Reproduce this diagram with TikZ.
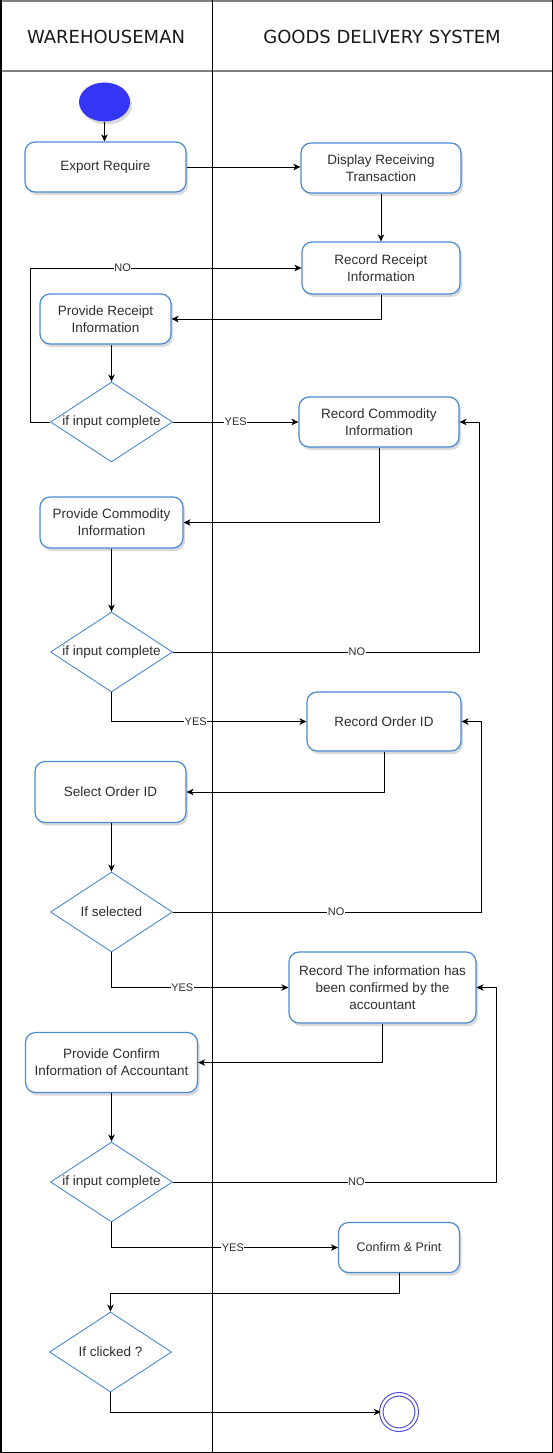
\documentclass[tikz,border=0pt]{standalone}
\usepackage{fontspec}
\setmainfont{Liberation Sans}
\newfontfamily\headfont{DejaVu Sans}
\usetikzlibrary{arrows.meta,shapes.geometric,shadows}
\definecolor{boxblue}{HTML}{4A8AD0}
\definecolor{startblue}{HTML}{3535F5}
\definecolor{endblue}{HTML}{4E4ED6}
\definecolor{txtgray}{HTML}{2E2E2E}
\definecolor{lanegray}{HTML}{808080}
\tikzset{
  actbox/.style={draw=boxblue, line width=1.2pt, rounded corners=10pt, fill=white,
    drop shadow={shadow xshift=2pt, shadow yshift=-3pt, opacity=.3, fill=gray},
    align=center, inner sep=0pt, text=txtgray, font=\fontsize{13.5}{17}\selectfont},
  decision/.style={diamond, draw=boxblue, line width=.9pt, fill=white, aspect=1.5,
    inner sep=0pt, minimum width=122pt, minimum height=80pt, text=txtgray,
    font=\fontsize{13.5}{17}\selectfont},
  flow/.style={-{Stealth[length=7pt,width=6.5pt,inset=2pt]}, line width=.9pt},
  lbl/.style={fill=white, inner sep=.6pt, text=txtgray, font=\fontsize{11}{12}\selectfont},
  lanehead/.style={text=black!90, font=\headfont\fontsize{18}{20}\selectfont},
}
\begin{document}
\begin{tikzpicture}[x=1pt,y=-1pt]
    \useasboundingbox (0,0) rectangle (553,1453);
    % lanes
    \draw[lanegray, line width=2pt] (0,1) -- (553,1);
    \draw[lanegray, line width=2pt] (0,71) -- (553,71);
    \draw[line width=1.5pt] (.75,0) -- (.75,1452.25) -- (552.25,1452.25) -- (552.25,0);
    \draw[line width=1pt] (212,0) -- (212,1452);
    \node[lanehead] (whman) at (106,37) {WAREHOUSEMAN};
    \node[lanehead] (gdsys) at (382,37) {GOODS DELIVERY SYSTEM};

    % activities
    \node[ellipse, fill=startblue, inner sep=0pt, minimum width=51pt, minimum height=39pt,
          drop shadow={shadow xshift=2pt, shadow yshift=-3pt, opacity=.3, fill=gray}] (start) at (104.5,102) {};
    \node[actbox, minimum width=161pt, minimum height=50pt] (export) at (105.5,167) {Export Require};
    \node[actbox, minimum width=160pt, minimum height=50pt] (display) at (381,168) {Display Receiving\\Transaction};
    \node[actbox, minimum width=158pt, minimum height=52pt] (recreceipt) at (381,268) {Record Receipt\\Information};
    \node[actbox, minimum width=131pt, minimum height=50pt] (provreceipt) at (105.5,319) {Provide Receipt\\Information};
    \node[decision] (dec1) at (111.5,422) {if input complete};
    \node[actbox, minimum width=160pt, minimum height=50pt] (reccommodity) at (379,422) {Record Commodity\\Information};
    \node[actbox, minimum width=143pt, minimum height=51pt] (provcommodity) at (111.5,522.5) {Provide Commodity\\Information};
    \node[decision] (dec2) at (111.5,652) {if input complete};
    \node[actbox, minimum width=154pt, minimum height=59pt] (recorder) at (384,721.5) {Record Order ID};
    \node[actbox, minimum width=151pt, minimum height=61pt] (selorder) at (110.5,792) {Select Order ID};
    \node[decision] (dec3) at (111.5,912) {If selected};
    \node[actbox, minimum width=187pt, minimum height=71pt] (recconfirmed) at (382.5,987.5) {Record The information has\\been confirmed by the\\accountant};
    \node[actbox, minimum width=172pt, minimum height=60pt] (provconfirm) at (111.5,1062.5) {Provide Confirm\\Information of Accountant};
    \node[decision] (dec4) at (111.5,1182) {if input complete};
    \node[actbox, minimum width=121pt, minimum height=50pt] (confirmprint) at (399,1247.5) {\fontsize{12.5}{15}\selectfont Confirm \& Print};
    \node[decision] (dec5) at (110.5,1352) {If clicked ?};
    \node[circle, draw=endblue, line width=1.1pt, double=white, double distance=2.4pt,
          fill=white, inner sep=0pt, minimum size=35.4pt] (finish) at (399,1412) {};

    % flows
    \draw[flow] (start.south) -- (start.south |- export.north);
    \draw[flow] (export.east) -- (export.east -| display.west);
    \draw[flow] (display.south) -- (recreceipt.north);
    \draw[flow] (recreceipt.south) |- (provreceipt.east);
    \draw[flow] (dec1.north |- provreceipt.south) -- (dec1.north);
    \draw[flow] (dec1.west) -- ++(-19.5,0) |- (recreceipt.west) node[lbl, pos=.67] {NO};
    \draw[flow] (dec1.east) -- (reccommodity.west) node[lbl, pos=.5] {YES};
    \draw[flow] (reccommodity.south) |- (provcommodity.east);
    \draw[flow] (provcommodity.south) -- (dec2.north);
    \draw[flow] (dec2.east) -- ++(306.5,0) node[lbl, pos=.6] {NO} |- (reccommodity.east);
    \draw[flow] (dec2.south) |- (recorder.west) node[lbl, pos=.716] {YES};
    \draw[flow] (recorder.south) |- (selorder.east);
    \draw[flow] (dec3.north |- selorder.south) -- (dec3.north);
    \draw[flow] (dec3.east) -- ++(308,0) node[lbl, pos=.53] {NO} |- (recorder.east);
    \draw[flow] (dec3.south) |- (recconfirmed.west) node[lbl, pos=.7] {YES};
    \draw[flow] (recconfirmed.south) |- (provconfirm.east);
    \draw[flow] (provconfirm.south) -- (dec4.north);
    \draw[flow] (dec4.east) -- ++(323.5,0) node[lbl, pos=.567] {NO} |- (recconfirmed.east);
    \draw[flow] (dec4.south) |- (confirmprint.west) node[lbl, pos=.768] {YES};
    \draw[flow] (confirmprint.south) -- ++(0,20) -| (dec5.north);
    \draw[flow] (dec5.south) |- (finish.west);
\end{tikzpicture}
\end{document}
